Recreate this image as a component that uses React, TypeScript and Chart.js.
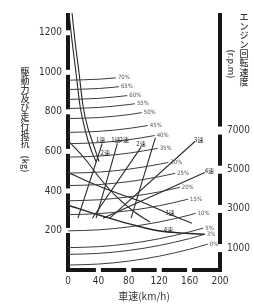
import React, { useEffect, useRef } from 'react';
import { Chart, registerables } from 'chart.js';

Chart.register(...registerables);

// ---- axis ticks ----
const speedTicks = [0, 40, 80, 120, 160, 200];
const forceTicks = [200, 400, 600, 800, 1000, 1200];
const rpmTicks = [1000, 3000, 5000, 7000];

// ---- running resistance per grade (speed km/h, force kg) ----
const gradeLabels = ['70%', '65%', '60%', '55%', '50%', '45%', '40%', '35%', '30%', '25%', '20%', '15%', '10%', '5%', '3%', '0%'];
const gradeSpeeds = [
  [0, 40, 63], [0, 40, 67], [0, 40, 78], [0, 40, 80, 88], [0, 40, 80, 97], [0, 40, 80, 105],
  [0, 40, 80, 114], [0, 40, 80, 118], [0, 40, 80, 120, 132], [0, 40, 80, 120, 141],
  [0, 40, 80, 120, 147], [0, 40, 80, 120, 158], [0, 40, 80, 120, 160, 168],
  [0, 40, 80, 120, 160, 178], [0, 40, 80, 120, 160, 180], [0, 40, 80, 120, 160, 184],
];
const gradeForces = [
  [960, 965, 972], [913, 918, 927], [863, 868, 882], [817, 822, 837, 841], [766, 771, 786, 796],
  [696, 701, 716, 731], [639, 644, 659, 680], [571, 576, 591, 615], [490, 495, 510, 535, 544],
  [427, 432, 447, 472, 489], [350, 355, 370, 395, 418], [280, 285, 300, 325, 358],
  [198, 203, 218, 243, 278, 287], [113, 118, 133, 158, 193, 212], [79, 84, 99, 124, 159, 181],
  [25, 30, 45, 70, 105, 131],
];

// ---- driving force per gear (speed km/h, force kg) ----
const forceNames = ['1速', '1速', '2速', '3速', '4速'];
const forceSpeeds = [
  [1.3, 5.3, 10.5, 15.8, 21.1, 26.3, 31.6, 36.8],
  [5.3, 9.2, 14.5, 19.7, 26.3, 31.6, 36.8, 40.8],
  [0, 22, 42, 62, 88, 108],
  [0, 29, 62, 101, 134, 163],
  [0, 42, 82, 121, 180],
];
const forceValues = [
  [1300, 1159, 998, 831, 731, 655, 595, 549],
  [1300, 1159, 998, 831, 716, 655, 595, 549],
  [655, 564, 464, 378, 292, 242],
  [494, 443, 393, 338, 282, 237],
  [328, 277, 232, 197, 181],
];

// ---- engine speed per gear (speed km/h, rpm) ----
const rpmNames = ['1速', '1速', '2速', '2速', '3速', '4速'];
const rpmSpeeds = [[13, 45], [37, 65], [32, 96], [83, 115], [55, 167], [46, 180]];
const rpmValues = [[2525, 6340], [2525, 6340], [2525, 6140], [2525, 6640], [2525, 6440], [2525, 4860]];

// ---- gear notes (speed km/h, force kg) ----
const noteTexts = ['1速', '1速', '2速', '2速', '2速', '3速', '4速', '3速', '4速'];
const noteSpeeds = [43, 63, 74, 49, 96, 172, 186, 134, 132];
const noteForces = [660, 660, 660, 595, 640, 660, 504, 292, 202];

const TICK_FONT = "'Liberation Sans Narrow', 'DejaVu Sans Condensed', 'Liberation Sans', sans-serif";
const CJK_FONT = "'Noto Sans CJK JP', sans-serif";

function vBar(ctx: CanvasRenderingContext2D, x: number, w: number, y0: number, y1: number, gaps: number[], half: number) {
  let cur = y0;
  const gs = [...gaps].sort((a, b) => a - b);
  for (const g of gs) {
    if (g - half > cur) ctx.fillRect(x, cur, w, g - half - cur);
    cur = Math.max(cur, g + half);
  }
  if (y1 > cur) ctx.fillRect(x, cur, w, y1 - cur);
}

function hBar(ctx: CanvasRenderingContext2D, x0: number, x1: number, y: number, h: number, gaps: number[], half: number) {
  let cur = x0;
  const gs = [...gaps].sort((a, b) => a - b);
  for (const g of gs) {
    if (g - half > cur) ctx.fillRect(cur, y, g - half - cur, h);
    cur = Math.max(cur, g + half);
  }
  if (x1 > cur) ctx.fillRect(cur, y, x1 - cur, h);
}

const framePlugin = {
  id: 'frame',
  beforeDatasetsDraw(chart: any) {
    const { ctx, chartArea: a, scales } = chart;
    ctx.save();
    ctx.fillStyle = '#161616';
    vBar(ctx, a.left - 2, 4, a.top, a.bottom + 2, forceTicks.map((v) => scales.y.getPixelForValue(v)), 2.5);
    hBar(ctx, a.left - 2, a.right + 2, a.bottom - 2, 4,
      speedTicks.filter((v) => v > 0 && v < 200).map((v) => scales.x.getPixelForValue(v)), 2.5);
    vBar(ctx, a.right - 2, 4, a.top, a.bottom + 2, rpmTicks.map((v) => scales.y2.getPixelForValue(v)), 4);
    ctx.restore();
  },
  afterDatasetsDraw(chart: any) {
    const { ctx, scales } = chart;
    ctx.save();
    ctx.font = `6px ${TICK_FONT}`;
    ctx.fillStyle = '#555';
    ctx.textAlign = 'left';
    ctx.textBaseline = 'middle';
    gradeLabels.forEach((lab, i) => {
      const s = gradeSpeeds[i];
      const f = gradeForces[i];
      const px = scales.x.getPixelForValue(s[s.length - 1]) + 2;
      const py = scales.y.getPixelForValue(f[f.length - 1]);
      ctx.fillText(lab, px, py);
    });
    ctx.font = `6px ${CJK_FONT}`;
    ctx.fillStyle = '#222';
    ctx.textAlign = 'center';
    noteTexts.forEach((t, i) => {
      ctx.fillText(t, scales.x.getPixelForValue(noteSpeeds[i]), scales.y.getPixelForValue(noteForces[i]));
    });
    ctx.restore();
  },
  afterDraw(chart: any) {
    const { ctx, chartArea: a } = chart;
    ctx.save();
    ctx.fillStyle = '#3a3a3a';
    ctx.textAlign = 'center';
    ctx.textBaseline = 'middle';
    ctx.font = `500 9px ${CJK_FONT}`;
    const left = '駆動力及び走行抵抗';
    for (let i = 0; i < left.length; i++) ctx.fillText(left[i], 25, 72 + i * 9);
    ctx.save();
    ctx.translate(25, 164);
    ctx.rotate(Math.PI / 2);
    ctx.fillText('(kg)', 0, 0);
    ctx.restore();
    const right = 'エンジン回転速度';
    for (let i = 0; i < right.length; i++) ctx.fillText(right[i], 244, 17 + i * 9.2);
    ctx.save();
    ctx.translate(231, 64);
    ctx.rotate(Math.PI / 2);
    ctx.fillText('(r.p.m)', 0, 0);
    ctx.restore();
    ctx.font = `10px ${CJK_FONT}`;
    ctx.fillStyle = '#333';
    ctx.fillText('車速(km/h)', (a.left + a.right) / 2, 296);
    ctx.restore();
  },
};

const plain = (v: any) => String(v);

export default function App() {
  const ref = useRef<HTMLCanvasElement>(null);
  useEffect(() => {
    if (!ref.current) return;
    const datasets: any[] = [];
    gradeLabels.forEach((lab, i) => {
      datasets.push({
        label: lab,
        data: gradeSpeeds[i].map((s, j) => ({ x: s, y: gradeForces[i][j] })),
        borderColor: '#3c3c3c',
        borderWidth: 1,
        pointRadius: 0,
        cubicInterpolationMode: 'monotone',
        yAxisID: 'y',
      });
    });
    forceNames.forEach((n, i) => {
      datasets.push({
        label: n,
        data: forceSpeeds[i].map((s, j) => ({ x: s, y: forceValues[i][j] })),
        borderColor: '#262626',
        borderWidth: i === 4 ? 1.4 : 1.1,
        pointRadius: 0,
        cubicInterpolationMode: 'monotone',
        yAxisID: 'y',
      });
    });
    rpmNames.forEach((n, i) => {
      datasets.push({
        label: n + ' rpm',
        data: rpmSpeeds[i].map((s, j) => ({ x: s, y: rpmValues[i][j] })),
        borderColor: '#2a2a2a',
        borderWidth: 1.1,
        pointRadius: 0,
        tension: 0,
        yAxisID: 'y2',
      });
    });

    const chart = new Chart(ref.current, {
      type: 'line',
      data: { datasets },
      plugins: [framePlugin as any],
      options: {
        animation: false,
        responsive: true,
        maintainAspectRatio: false,
        layout: { padding: { top: 12, left: 0, right: 0, bottom: 0 } },
        plugins: { legend: { display: false }, tooltip: { enabled: false } },
        scales: {
          x: {
            type: 'linear',
            min: 0,
            max: 200,
            grid: { display: false, drawTicks: false },
            border: { display: false },
            afterBuildTicks: (s: any) => { s.ticks = speedTicks.map((v) => ({ value: v })); },
            afterFit: (s: any) => { s.height = 35; },
            ticks: { padding: 5, color: '#333', font: { size: 10, family: TICK_FONT }, maxRotation: 0, callback: plain },
          },
          y: {
            type: 'linear',
            position: 'left',
            min: 0,
            max: 1300,
            grid: { display: false, drawTicks: false },
            border: { display: false },
            afterBuildTicks: (s: any) => { s.ticks = forceTicks.map((v) => ({ value: v })); },
            afterFit: (s: any) => { s.width = 68; },
            ticks: { padding: 6, color: '#333', font: { size: 10, family: TICK_FONT }, callback: plain },
          },
          y2: {
            type: 'linear',
            position: 'right',
            min: -119,
            max: 13000,
            grid: { display: false, drawTicks: false },
            border: { display: false },
            afterBuildTicks: (s: any) => { s.ticks = rpmTicks.map((v) => ({ value: v })); },
            afterFit: (s: any) => { s.width = 34; },
            ticks: { padding: 7, color: '#333', font: { size: 10, family: TICK_FONT }, callback: plain },
          },
        },
      },
    } as any);
    return () => chart.destroy();
  }, []);
  return (
    <div style={{ position: 'fixed', left: 0, top: 0, width: 254, height: 305, background: '#fff' }}>
      <canvas ref={ref} />
    </div>
  );
}
